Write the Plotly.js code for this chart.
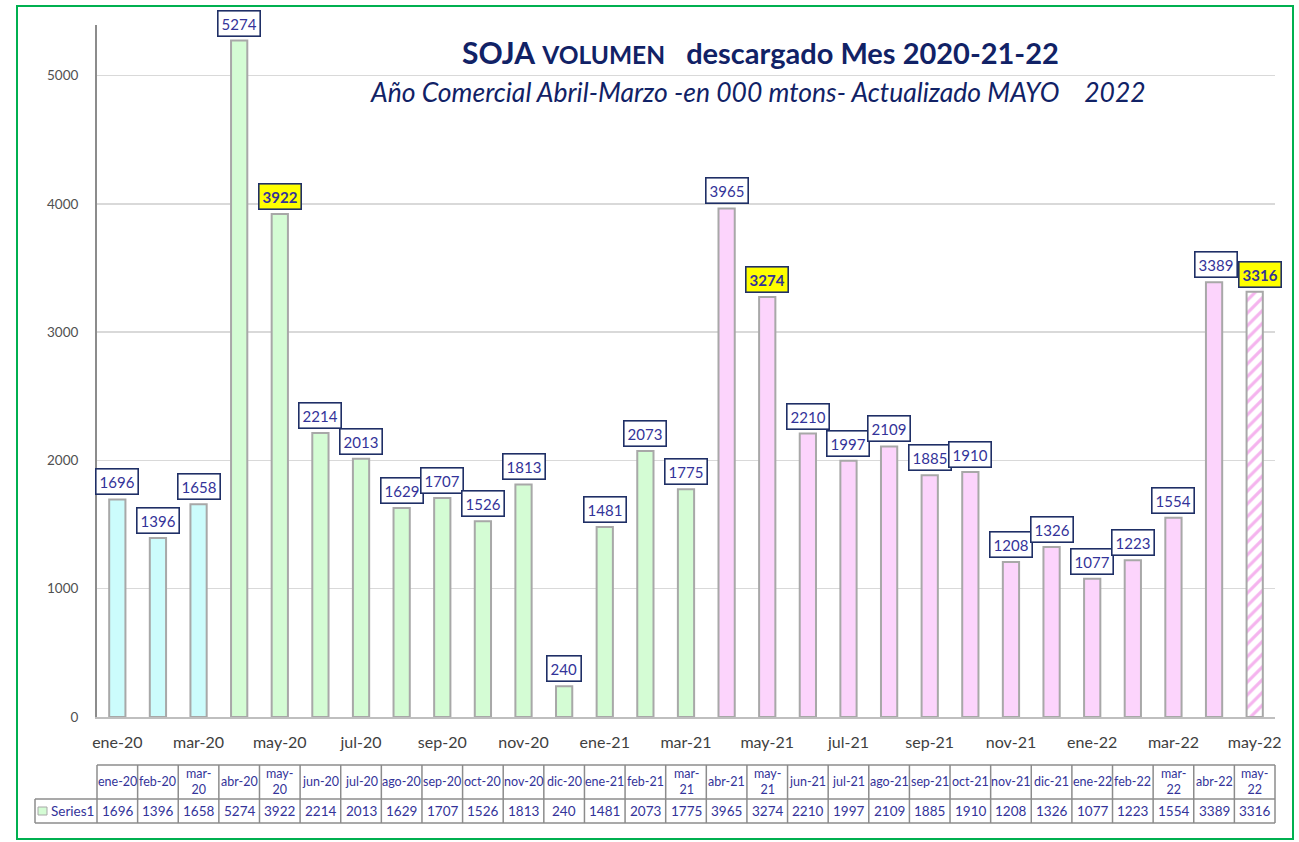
<!DOCTYPE html>
<html>
<head>
<meta charset="utf-8">
<script src="https://cdn.plot.ly/plotly-3.0.1.min.js"></script>
<style>
html,body{margin:0;padding:0;background:#fff;}
#chart{width:1299px;height:842px;}
</style>
</head>
<body>
<div id="chart"></div>
<script>
// ---- data ----
const categories = ['ene-20','feb-20','mar-20','abr-20','may-20','jun-20','jul-20','ago-20','sep-20','oct-20','nov-20','dic-20',
  'ene-21','feb-21','mar-21','abr-21','may-21','jun-21','jul-21','ago-21','sep-21','oct-21','nov-21','dic-21',
  'ene-22','feb-22','mar-22','abr-22','may-22'];
const values = [1696,1396,1658,5274,3922,2214,2013,1629,1707,1526,1813,240,
  1481,2073,1775,3965,3274,2210,1997,2109,1885,1910,1208,1326,
  1077,1223,1554,3389,3316];
// colour group of each month
const groups = ['a','a','a','b','b','b','b','b','b','b','b','b',
  'b','b','b','c','c','c','c','c','c','c','c','c',
  'c','c','c','c','d'];
const tickLabels = categories.filter((c, i) => i % 2 === 0);
const highlighted = ['may-20','may-21','may-22'];
const seriesName = 'Series1';

// ---- styles ----
const groupFill = {a:'#ccfcfc', b:'#d4fcd4', c:'#fcd4fc'};
const navy = '#1f2f66';
const labelBlue = '#333399';
const FONT = 'Lato, "Open Sans", sans-serif';

const n = categories.length;
const plotTopPx = 25, plotBottomPx = 717, plotLeftPx = 97, plotRightPx = 1275;
const plotH = plotBottomPx - plotTopPx, plotW = plotRightPx - plotLeftPx;
const py = px => (plotBottomPx - px) / plotH;     // pixel -> paper y
const pxX = px => (px - plotLeftPx) / plotW;      // pixel -> paper x

const solidIdx = groups.map((g, i) => i).filter(i => groups[i] !== 'd');
const hatchIdx = groups.map((g, i) => i).filter(i => groups[i] === 'd');

const solidTrace = {
  type: 'bar',
  x: solidIdx.map(i => categories[i]),
  y: solidIdx.map(i => values[i]),
  width: 0.4,
  marker: {
    color: solidIdx.map(i => groupFill[groups[i]]),
    line: {color: '#a8a8a8', width: 2}
  },
  hoverinfo: 'x+y',
  showlegend: false
};
const hatchTrace = {
  type: 'bar',
  x: hatchIdx.map(i => categories[i]),
  y: hatchIdx.map(i => values[i]),
  width: 0.4,
  marker: {
    color: '#f5b3ee',
    line: {color: '#a8a8a8', width: 2},
    pattern: {shape: '/', fillmode: 'replace', fgcolor: '#f5b3ee', bgcolor: '#ffffff', size: 9, solidity: 0.35}
  },
  hoverinfo: 'x+y',
  showlegend: false
};

const annotations = [];
// value labels
categories.forEach((c, i) => {
  const hl = highlighted.includes(c);
  annotations.push({
    x: c, y: values[i], xref: 'x', yref: 'y',
    text: hl ? '<b>' + values[i] + '</b>' : String(values[i]),
    showarrow: false, yanchor: 'bottom', yshift: 4,
    xshift: c === 'may-22' ? 5 : (c === 'abr-22' ? 2 : 0),
    font: {family: FONT, size: 15, color: labelBlue},
    bgcolor: hl ? '#ffff00' : '#ffffff',
    bordercolor: navy, borderwidth: 1.6, borderpad: 3
  });
});

// title + subtitle
annotations.push({
  xref: 'paper', yref: 'paper', x: pxX(760), y: py(52),
  xanchor: 'center', yanchor: 'middle', showarrow: false,
  text: '<b><span style="font-size:30px">SOJA</span> <span style="font-size:24.5px">VOLUMEN</span>\u00A0\u00A0\u00A0descargado Mes 2020-21-22</b>',
  font: {family: FONT, size: 29, color: '#112266'}
});
annotations.push({
  xref: 'paper', yref: 'paper', x: pxX(758), y: py(92),
  xanchor: 'center', yanchor: 'middle', showarrow: false,
  text: '<i>Año Comercial Abril-Marzo -en 000 mtons- Actualizado MAYO\u00A0\u00A0\u00A0\u00A02022</i>',
  font: {family: FONT, size: 26.5, color: '#112266'}
});

// data table
const tTop = py(765), tMid = py(799), tBot = py(823);
const tLeft = pxX(35);
categories.forEach((c, i) => {
  const head = c.startsWith('ma') ? c.replace('-', '-<br>') : c;
  annotations.push({
    x: c, xref: 'x', yref: 'paper', y: (tTop + tMid) / 2,
    text: head, showarrow: false, xanchor: 'center', yanchor: 'middle',
    font: {family: FONT, size: 12.5, color: labelBlue}
  });
  annotations.push({
    x: c, xref: 'x', yref: 'paper', y: (tMid + tBot) / 2,
    text: String(values[i]), showarrow: false, xanchor: 'center', yanchor: 'middle',
    font: {family: FONT, size: 13.5, color: labelBlue}
  });
});
annotations.push({
  x: pxX(49), xref: 'paper', yref: 'paper', y: (tMid + tBot) / 2,
  text: seriesName, showarrow: false, xanchor: 'left', yanchor: 'middle',
  font: {family: FONT, size: 13.5, color: labelBlue}
});

const lineStyle = {color: '#8c8c8c', width: 1.5};
const shapes = [];
shapes.push({type:'line', xref:'paper', yref:'paper', x0:0, x1:1, y0:tTop, y1:tTop, line:lineStyle});
shapes.push({type:'line', xref:'paper', yref:'paper', x0:tLeft, x1:1, y0:tMid, y1:tMid, line:lineStyle});
shapes.push({type:'line', xref:'paper', yref:'paper', x0:tLeft, x1:1, y0:tBot, y1:tBot, line:lineStyle});
shapes.push({type:'line', xref:'paper', yref:'paper', x0:tLeft, x1:tLeft, y0:tMid, y1:tBot, line:lineStyle});
for (let k = 0; k <= n; k++) {
  shapes.push({type:'line', xref:'paper', yref:'paper', x0:k/n, x1:k/n, y0:tTop, y1:tBot, line:lineStyle});
}
// legend key in table
shapes.push({type:'rect', xref:'paper', yref:'paper', x0:pxX(38), x1:pxX(47), y0:py(815), y1:py(807),
  fillcolor:'#d4fcd4', line:{color:'#a8a8a8', width:1}});
// outer green border
shapes.push({type:'rect', xref:'paper', yref:'paper', x0:pxX(17), x1:pxX(1293), y0:py(839), y1:py(6),
  fillcolor:'rgba(0,0,0,0)', line:{color:'#00b050', width:2}, layer:'below'});

const layout = {
  width: 1299, height: 842,
  margin: {l: plotLeftPx, r: 1299 - plotRightPx, t: plotTopPx, b: 842 - plotBottomPx, pad: 0},
  paper_bgcolor: '#ffffff', plot_bgcolor: '#ffffff',
  font: {family: FONT},
  barmode: 'overlay',
  xaxis: {
    type: 'category', range: [-0.5, n - 0.5],
    categoryorder: 'array', categoryarray: categories,
    tickmode: 'array', tickvals: tickLabels, ticktext: tickLabels,
    tickfont: {family: FONT, size: 16, color: '#404040'},
    ticks: '', showline: true, linecolor: '#bfbfbf', linewidth: 1.5,
    showgrid: false, zeroline: false, ticklabelstandoff: 10, fixedrange: true
  },
  yaxis: {
    range: [0, 5395], tickvals: [0,1000,2000,3000,4000,5000],
    tickfont: {family: FONT, size: 13.5, color: '#505050'},
    ticks: '', showline: true, linecolor: '#8c8c8c', linewidth: 2,
    gridcolor: '#d9d9d9', gridwidth: 1.5, zeroline: false, ticklabelstandoff: 14, fixedrange: true
  },
  annotations: annotations,
  shapes: shapes,
  showlegend: false
};

Plotly.newPlot('chart', [solidTrace, hatchTrace], layout, {displayModeBar: false, staticPlot: true});
</script>
</body>
</html>
